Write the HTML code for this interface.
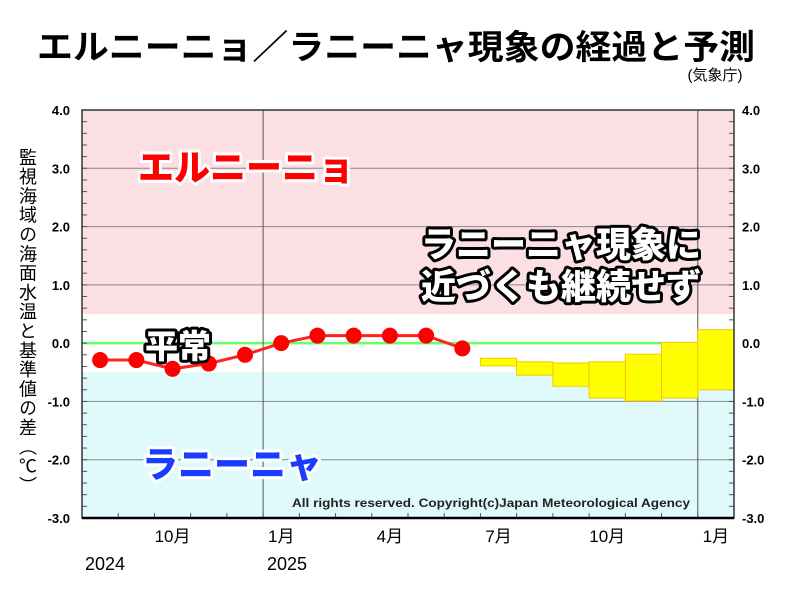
<!DOCTYPE html>
<html><head><meta charset="utf-8"><style>
body{margin:0;background:#fff;}
svg{display:block;font-family:"Liberation Sans","Noto Sans CJK JP",sans-serif;}
.out{paint-order:stroke;stroke-linejoin:round;font-weight:900;}
.plain{font-weight:normal;}
</style></head><body>
<svg id="c" width="800" height="600" xmlns="http://www.w3.org/2000/svg">
<text x="37" y="59" textLength="718" lengthAdjust="spacingAndGlyphs" font-size="34" font-weight="bold" fill="#000">エルニーニョ／ラニーニャ現象の経過と予測</text>
<text x="715" y="80" text-anchor="middle" font-size="15" fill="#000">(気象庁)</text>
<text x="27" y="148" font-size="18" fill="#000" style="writing-mode:vertical-rl;letter-spacing:1.3px">監視海域の海面水温と基準値の差（℃）</text>
<g id="plot"></g>
</svg>
<script>
const months=['8','9','10','11','12','1','2','3','4','5','6','7','8','9','10','11','12','1'];
const tickLabels=['10月','1月','4月','7月','10月','1月'];
const tickMonthIdx=[2,5,8,11,14,17];
const obsValues=[-0.29,-0.29,-0.44,-0.35,-0.2,0.0,0.13,0.13,0.13,0.13,-0.09];
const fcStart=11;
const fcHigh=[-0.26,-0.32,-0.34,-0.32,-0.19,0.01,0.23];
const fcLow=[-0.39,-0.55,-0.74,-0.94,-0.99,-0.94,-0.8];
const yTicks=[4,3,2,1,0,-1,-2,-3];

const X0=82,X1=734,Y0=110,Y1=518;
const mw=(X1-X0)/months.length;
const xs=i=>X0+mw*(i+0.5);
const xe=i=>X0+mw*i;
const ys=v=>Y0+(4-v)*(Y1-Y0)/7;
const g=document.getElementById('plot');
const NS='http://www.w3.org/2000/svg';
function el(t,a){const e=document.createElementNS(NS,t);for(const k in a)e.setAttribute(k,a[k]);g.appendChild(e);return e;}

let e;
e=el('rect',{x:X0,y:Y0,width:X1-X0,height:ys(0.5)-Y0,fill:'#fbdfe2'});


e=el('rect',{x:X0,y:ys(-0.5),width:X1-X0,height:Y1-ys(-0.5),fill:'#e0fafc'});


yTicks.forEach(v=>{
  e=el('line',{x1:X0,x2:X1,y1:ys(v),y2:ys(v),stroke:v===0?'#6f6':'#888','stroke-width':v===0?2.5:1});
  
  
  ['end','start'].forEach(a=>{
    e=el('text',{x:a==='end'?X0-12:X1+8,y:ys(v)+5,'font-size':13,'font-weight':'bold','text-anchor':a,fill:'#000'});
    e.textContent=v.toFixed(1);
    
    
  });
});
for(let v=-3;v<=4.001;v+=0.2){
  el('line',{x1:X0,x2:X0+5,y1:ys(v),y2:ys(v),stroke:'#555'});
  el('line',{x1:X1-5,x2:X1,y1:ys(v),y2:ys(v),stroke:'#555'});
}
for(let i=0;i<=months.length;i++){el('line',{x1:xe(i),x2:xe(i),y1:Y1,y2:Y1-5,stroke:'#555'});}
[5,17].forEach(i=>{e=el('line',{x1:xe(i),x2:xe(i),y1:Y0,y2:Y1,stroke:'#555'});
  
  });
fcHigh.forEach((h,k)=>{
  const i=fcStart+k;
  e=el('rect',{x:xe(i),y:ys(h),width:mw,height:ys(fcLow[k])-ys(h),fill:'#ffff00',stroke:'#f5c800','stroke-width':1});
  
  
});
e=el('polyline',{points:obsValues.map((v,i)=>xs(i)+','+ys(v)).join(' '),fill:'none',stroke:'#f22','stroke-width':3});


obsValues.forEach((v,i)=>{
  e=el('circle',{cx:xs(i),cy:ys(v),r:8,fill:'#f00'});
  
  
});
e=el('rect',{x:X0,y:Y0,width:X1-X0,height:Y1-Y0,fill:'none',stroke:'#333','stroke-width':1.5});


e=el('line',{x1:X0,x2:X1,y1:Y1,y2:Y1,stroke:'#000','stroke-width':2.5});
tickLabels.forEach((t,k)=>{
  e=el('text',{x:xs(tickMonthIdx[k]),y:542,'font-size':17,'text-anchor':'middle',fill:'#000'});
  e.textContent=t;
  
  
});
function txt(s,x,y,sz,fill,stroke,sw,name,cls){
  e=el('text',{x:x,y:y,'font-size':sz,fill:fill,stroke:stroke,'stroke-width':sw,'class':cls||'out'});
  e.textContent=s;
  
  
}
txt('2024',85,570,18,'#000','none',0,'year-2024','plain');
txt('2025',267,570,18,'#000','none',0,'year-2025','plain');
txt('All rights reserved. Copyright(c)Japan Meteorological Agency',292,507,12,'#222','none',0,'copyright');
g.lastChild.setAttribute('style','font-weight:bold');
g.lastChild.setAttribute('textLength','398');
g.lastChild.setAttribute('lengthAdjust','spacingAndGlyphs');
txt('エルニーニョ',138,180,36,'#f00','#fff',6,'el-nino-label');
txt('ラニーニャ現象に',421,257,35,'#fff','#000',6,'status-line-1');
txt('近づくも継続せず',421,299,35,'#fff','#000',6,'status-line-2');
txt('平常',145,358,33,'#fff','#000',6,'normal-label');
txt('ラニーニャ',142,477,36,'#1a3cff','#fff',6,'la-nina-label');
</script>
</body></html>
